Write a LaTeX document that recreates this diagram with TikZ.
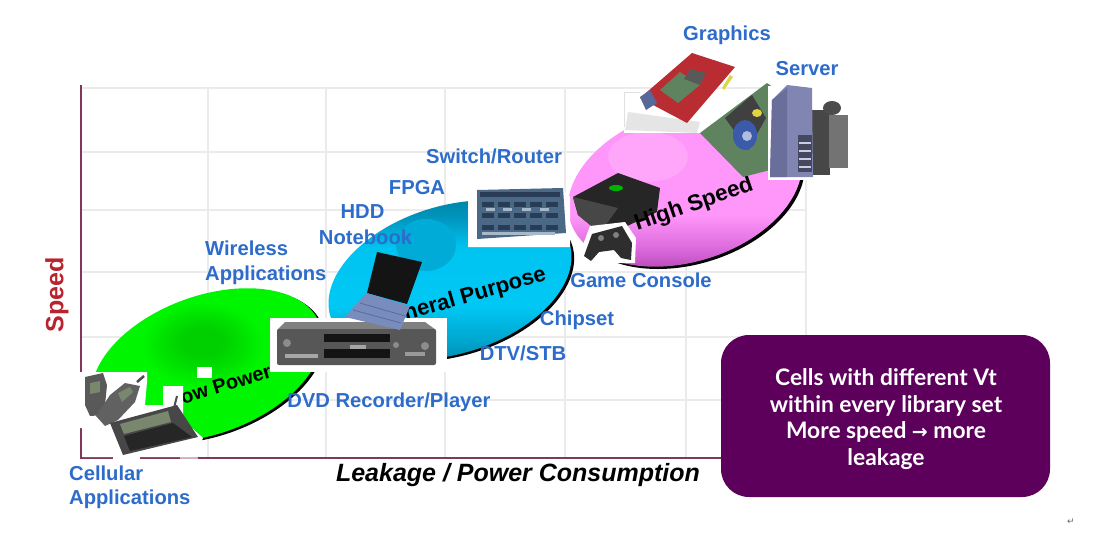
\documentclass[tikz,border=0pt]{standalone}
\usepackage{fontspec}
\setmainfont{Liberation Sans}
\newfontfamily\boxfont{Lato}
\newfontfamily\symfont{DejaVu Sans}
\definecolor{gA}{RGB}{0,208,0}
\definecolor{gB}{RGB}{0,225,0}
\definecolor{gC}{RGB}{0,245,0}
\definecolor{gD}{RGB}{0,232,0}
\pgfdeclareradialshading{greensh}{\pgfpoint{-1bp}{7bp}}{color(0bp)=(gA); color(4bp)=(gA); color(8bp)=(gB); color(12bp)=(gC); color(28bp)=(gC); color(40bp)=(gD); color(70bp)=(gD)}
\definecolor{bA}{RGB}{0,125,160}
\definecolor{bB}{RGB}{0,165,205}
\definecolor{bC}{RGB}{0,200,245}
\definecolor{bD}{RGB}{0,195,240}
\definecolor{bE}{RGB}{0,150,190}
\definecolor{bF}{RGB}{0,125,155}
\pgfdeclareverticalshading{bluesh}{100bp}{color(0bp)=(bA); color(25bp)=(bA); color(33bp)=(bB); color(43bp)=(bC); color(59bp)=(bD); color(67bp)=(bE); color(75bp)=(bF); color(100bp)=(bF)}
\definecolor{pinkmid}{RGB}{255,150,250}
\definecolor{pinkhi}{RGB}{255,165,250}
\definecolor{pinklow}{RGB}{165,60,165}
\definecolor{pinkl2}{RGB}{215,100,215}
\definecolor{bluehi}{RGB}{0,172,215}
\pgfdeclareverticalshading{pinksh}{100bp}{color(0bp)=(pinklow); color(25bp)=(pinklow); color(32bp)=(pinkl2); color(42bp)=(pinkmid); color(100bp)=(pinkmid)}
\definecolor{gridc}{RGB}{235,235,235}
\definecolor{axisc}{RGB}{130,55,90}
\definecolor{textblue}{RGB}{45,108,203}
\definecolor{boxc}{RGB}{92,0,92}
\definecolor{speedred}{RGB}{185,35,45}
\definecolor{slate}{RGB}{75,105,135}
\definecolor{slated}{RGB}{40,60,85}
\definecolor{slatel}{RGB}{165,185,200}
\definecolor{keyb}{RGB}{120,140,190}
\definecolor{keyd}{RGB}{90,105,150}
\definecolor{cardred}{RGB}{185,45,50}
\definecolor{cardgreen}{RGB}{95,130,95}
\definecolor{srvA}{RGB}{105,110,155}
\definecolor{srvB}{RGB}{128,133,178}
\definecolor{srvC}{RGB}{70,72,95}
\definecolor{srvD}{RGB}{200,205,230}
\definecolor{coolb}{RGB}{60,90,170}
\definecolor{lcd}{RGB}{120,135,110}
\tikzset{
  lbl/.style={font=\fontsize{20.2}{22}\selectfont\bfseries, text=textblue, inner sep=0pt, text height=14.4pt, text depth=0pt},
  gridl/.style={draw=gridc, line width=1.2pt},
  axisl/.style={draw=axisc, line width=2.5pt},
  mask/.style={fill=white, draw=none},
  boxt/.style={font=\boxfont\fontsize{22.8}{26}\selectfont\bfseries, text=white, inner sep=0pt, text height=16pt, text depth=0pt}
}
\begin{document}
\begin{tikzpicture}[x=1pt,y=-1pt]
\useasboundingbox (0,0) rectangle (1098,538);
\fill[white] (0,0) rectangle (1098,538);
% grid
\foreach \gx in {208,326,445,565,686,806} \draw[gridl] (\gx,88) -- (\gx,458);
\foreach \gy in {88,152,210,272,337,400} \draw[gridl] (81,\gy) -- (806,\gy);
% axes
\draw[axisl] (81,85) -- (81,375);
\draw[axisl] (81,428) -- (81,459);
\draw[axisl] (80,458) -- (113,458);
\draw[axisl] (140,458) -- (180,458);
\draw[draw=axisc!40, line width=2.5pt] (180,458) -- (198,458);
\draw[axisl] (198,458) -- (725,458);
% lobes
\begin{scope}[shift={(207,365)},rotate=20]
  \fill[black] (2,2.5) ellipse (120pt and 69pt);
  \shade[shading=greensh] (0,0) ellipse (120pt and 69pt);
\end{scope}
\begin{scope}[shift={(450,280)},rotate=17]
  \fill[black] (2,2.5) ellipse (125pt and 74pt);
  \shade[shading=bluesh] (0,0) ellipse (125pt and 74pt);
\end{scope}
\fill[bluehi] (426,245) ellipse (30pt and 26pt);
\begin{scope}[shift={(685,186)},rotate=17]
  \fill[black] (2,3) ellipse (120pt and 76pt);
  \shade[shading=pinksh] (0,0) ellipse (120pt and 76pt);
\end{scope}
\fill[pinkhi] (648,157) ellipse (40pt and 25pt);
% lobe texts under the pictures
\node[font=\fontsize{20}{24}\selectfont\bfseries,inner sep=0pt,rotate=17] (lowpower) at (220,386) {Low Power};
\node[font=\fontsize{22}{24}\selectfont\bfseries,inner sep=0pt,rotate=16] (general) at (461,299) {General Purpose};
% mask around handsets
\fill[mask] (78,372) -- (147,372) -- (147,382) -- (145,405) -- (163,405) -- (163,386) -- (183,386) -- (183,420) -- (203,438) -- (195,457) -- (140,457) -- (113,457) -- (83,457) -- (83,428) -- (78,428) -- cycle;
\fill[mask] (197,367) rectangle (212,378);
% handsets
\fill[black!65] (85,377) -- (103,373) -- (107,385) -- (104,415) -- (90,416) -- (85,405) -- cycle;
\fill[lcd] (90,383) -- (100,381) -- (100,392) -- (90,394) -- cycle;
\draw[black!70,line width=2.5pt] (137,382) -- (144,376);
\fill[black!62] (110,395) -- (125,383) -- (140,386) -- (135,402) -- (118,420) -- (105,426) -- (96,416) -- cycle;
\fill[lcd] (118,393) -- (130,387) -- (133,392) -- (122,402) -- cycle;
\draw[black!70,line width=2pt] (174,408) -- (177,396);
\fill[black!72] (110,423) -- (177,405) -- (198,437) -- (123,455) -- cycle;
\fill[lcd] (120,424) -- (168,411) -- (171,422) -- (124,434) -- cycle;
\fill[black!85] (124,436) -- (173,423) -- (192,437) -- (130,451) -- cycle;
% DVD player
\fill[mask] (270,318) rectangle (447,372);
\fill[black!50] (285,322) -- (425,322) -- (436,330) -- (277,330) -- cycle;
\fill[black!66,rounded corners=2pt] (277,329) rectangle (436,365);
\fill[black!92] (324,334) rectangle (390,342);
\fill[black!92] (324,349) rectangle (390,358);
\fill[black!35] (350,345) rectangle (366,349);
\fill[black!35] (285,354) rectangle (318,358);
\fill[black!45] (287,343) circle (4pt);
\fill[black!45] (396,345) circle (3pt) (425,346) circle (4pt);
\fill[black!40] (405,352) rectangle (425,356);
% laptop
\fill[black!92] (377,252) -- (422,262) -- (407,304) -- (367,293) -- cycle;
\fill[keyb] (366,293) -- (410,306) -- (400,330) -- (345,317) -- cycle;
\draw[keyd,line width=.7pt] (360,303) -- (405,316) (353,310) -- (401,323);
% switch
\fill[mask] (468,197) -- (477,190) -- (563,190) -- (570,197) -- (570,247) -- (468,247) -- cycle;
\fill[slate] (477,190) -- (563,188) -- (566,233) -- (477,239) -- cycle;
\fill[slated] (480,192) rectangle (560,197);
\foreach \sy in {202,213,225} \foreach \sx in {482,498,514,530,546}
  \fill[slated] (\sx,\sy) rectangle ++(12,5);
\foreach \sx in {486,503,522,540} \fill[slatel] (\sx,208) rectangle ++(9,3);
\fill[slatel] (482,232) rectangle (555,235);
% game console
\fill[black!85] (573,197) -- (618,173) -- (660,188) -- (657,212) -- (625,227) -- (600,233) -- (578,215) -- cycle;
\fill[black!72] (573,197) -- (578,215) -- (600,233) -- (618,208) -- cycle;
\fill[green!70!black] (616,188) ellipse (7pt and 3pt);
\fill[mask] (590,226) -- (625,222) -- (636,238) -- (635,263) -- (585,263) -- (581,250) -- cycle;
\fill[black!82] (592,234) -- (622,226) -- (632,243) -- (631,260) -- (621,258) -- (614,250) -- (599,252) -- (591,261) -- (584,256) -- cycle;
\fill[black!50] (601,238) circle (3pt) (616,235) circle (3pt);
\node[font=\fontsize{22.5}{24}\selectfont\bfseries,inner sep=0pt,rotate=19] (highspeed) at (694,205) {High Speed};
% white ground of the two cards, cutting the pink lobe
\fill[mask] (624,92) rectangle (770,133);
\draw[black!12,line width=1pt] (640,92) -- (624,92) -- (624,127);
% graphics card (red)
\fill[black!10] (628,112) -- (700,122) -- (697,133) -- (625,130) -- cycle;
\fill[cardred] (640,98) -- (692,53) -- (735,67) -- (687,123) -- cycle;
\fill[cardgreen] (660,90) -- (680,72) -- (700,85) -- (678,103) -- cycle;
\fill[black!65] (690,69) -- (706,73) -- (700,85) -- (684,79) -- cycle;
\fill[coolb!60!gray] (640,97) -- (650,90) -- (657,103) -- (646,110) -- cycle;
\fill[yellow!70!gray] (730,75) -- (733,77) -- (724,90) -- (722,88) -- cycle;
% graphics card (green)
\fill[cardgreen] (700,133) -- (767,83) -- (777,90) -- (772,110) -- (770,170) -- (743,177) -- cycle;
\fill[black!75] (725,118) -- (752,95) -- (766,118) -- (748,150) -- cycle;
\fill[coolb] (745,135) ellipse (12pt and 15pt);
\fill[coolb!40!white] (747,136) circle (5pt);
\fill[yellow!70!gray] (757,113) ellipse (5pt and 4pt);
% server
\fill[mask] (768,86) rectangle (850,180);
\fill[black!72] (812,110) rectangle (830,175);
\fill[black!55] (829,115) rectangle (848,168);
\fill[black!70] (832,108) ellipse (9pt and 7pt);
\fill[srvB] (772,100) -- (787,85) -- (812,88) -- (813,177) -- (770,177) -- cycle;
\fill[srvA] (772,100) -- (787,88) -- (787,177) -- (770,177) -- cycle;
\fill[srvC] (798,135) rectangle (812,172);
\foreach \ty in {142,150,158,166} \fill[srvD] (799,\ty) rectangle (811,\ty+2);
% text labels
\node[lbl] (graphics) at (727,33.5) {Graphics};
\node[lbl] (server) at (807,68) {Server};
\node[lbl] (switchrouter) at (494,156) {Switch/Router};
\node[lbl] (fpga) at (417,187.5) {FPGA};
\node[lbl] (hdd) at (362.5,211) {HDD};
\node[lbl] (notebook) at (365.5,237.5) {Notebook};
\node[lbl,anchor=west] (wireless) at (205,248.5) {Wireless};
\node[lbl,anchor=west] (wapps) at (205,273) {Applications};
\node[lbl] (game) at (641,280) {Game Console};
\node[lbl] (chipset) at (577,318.5) {Chipset};
\node[lbl] (dtv) at (523,353.5) {DTV/STB};
\node[lbl] (dvd) at (389,400.5) {DVD Recorder/Player};
\node[lbl,anchor=west] (cellular) at (69,473) {Cellular};
\node[lbl,anchor=west] (capps) at (69,497) {Applications};
% axis titles
\node[font=\fontsize{25}{26}\selectfont\bfseries,text=speedred,rotate=90,inner sep=0pt] (speed) at (57,295) {Speed};
\node[font=\fontsize{25}{26}\selectfont\bfseries\itshape,text=black,inner sep=0pt,text height=17pt,text depth=0pt] (leakage) at (518,473) {Leakage / Power Consumption};
% callout
\node[fill=boxc,rounded corners=28pt,minimum width=329pt,minimum height=162pt,inner sep=0pt] (callout) at (885.5,416) {};
\node[boxt] (t1) at (886,377) {Cells with different Vt};
\node[boxt] (t2) at (886,404) {within every library set};
\node[boxt] (t3) at (886,430) {More speed {\symfont\fontsize{19}{20}\selectfont →} more};
\node[boxt] (t4) at (886,457) {leakage};
\node[font=\symfont\fontsize{9}{10}\selectfont,text=black!60,inner sep=0pt] (ret) at (1071,522) {↵};
\end{tikzpicture}
\end{document}
